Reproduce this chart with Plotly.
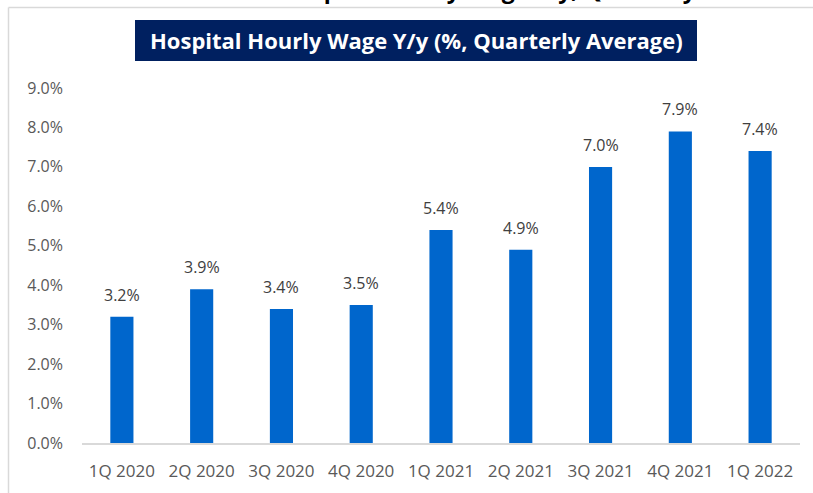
import plotly.graph_objects as go

categories = ["1Q 2020", "2Q 2020", "3Q 2020", "4Q 2020", "1Q 2021",
              "2Q 2021", "3Q 2021", "4Q 2021", "1Q 2022"]
wage_yoy = [3.2, 3.9, 3.4, 3.5, 5.4, 4.9, 7.0, 7.9, 7.4]
y_ticks = [0, 1, 2, 3, 4, 5, 6, 7, 8, 9]

title_text = "Hospital Hourly Wage Y/y (%, Quarterly Average)"
top_text = "Exhibit 3: Hospital Hourly Wage Y/y, Quarterly"

W, H = 813, 493
L, R, T, B = 82, 13, 88, 50
pw, ph = W - L - R, H - T - B

def px_x(x):
    return (x - L) / pw

def px_y(y):
    return (H - B - y) / ph

fig = go.Figure()
fig.add_trace(go.Bar(
    x=categories, y=wage_yoy,
    marker=dict(color="#0066CC", line=dict(width=0)),
    width=0.29,
    hoverinfo="x+y",
))

annotations = []
for c, v in zip(categories, wage_yoy):
    annotations.append(dict(
        x=c, y=v, xref="x", yref="y", text=f"{v:.1f}%",
        showarrow=False, yanchor="bottom", yshift=9,
        font=dict(family="Open Sans", size=16, color="#404040"),
    ))

# title inside navy box
annotations.append(dict(
    x=px_x(416), y=px_y(40.5), xref="paper", yref="paper",
    text=f"<b>{title_text}</b>", showarrow=False,
    xanchor="center", yanchor="middle",
    font=dict(family="Open Sans", size=22, color="white"),
))
# cut-off heading at very top
annotations.append(dict(
    x=px_x(433), y=px_y(-11), xref="paper", yref="paper",
    text=f"<b>{top_text}</b>", showarrow=False,
    xanchor="center", yanchor="middle",
    font=dict(family="Open Sans", size=23, color="black"),
))

shapes = [
    dict(type="rect", xref="paper", yref="paper",
         x0=px_x(135), x1=px_x(697), y0=px_y(61), y1=px_y(20),
         fillcolor="#002060", line=dict(width=0), layer="below"),
    dict(type="line", xref="paper", yref="paper",
         x0=px_x(8.5), x1=px_x(813), y0=px_y(7.5), y1=px_y(7.5),
         line=dict(color="#D9D9D9", width=1.5)),
    dict(type="line", xref="paper", yref="paper",
         x0=px_x(8.5), x1=px_x(8.5), y0=px_y(7.5), y1=px_y(493),
         line=dict(color="#D9D9D9", width=1.5)),
]

fig.update_layout(
    width=W, height=H,
    margin=dict(l=L, r=R, t=T, b=B, pad=0),
    paper_bgcolor="white", plot_bgcolor="white",
    showlegend=False,
    annotations=annotations,
    shapes=shapes,
    bargap=0.71,
)
fig.update_xaxes(
    type="category",
    showline=True, linecolor="#D9D9D9", linewidth=1.5,
    showgrid=False, ticks="",
    tickfont=dict(family="Open Sans", size=17, color="#595959"),
    ticklabelstandoff=12,
)
fig.update_yaxes(
    range=[0, 9], tickvals=y_ticks,
    ticktext=[f"{v:.1f}%" for v in y_ticks],
    showgrid=False, zeroline=False, showline=False, ticks="",
    tickfont=dict(family="Open Sans", size=16, color="#595959"),
    ticklabelstandoff=18,
)

fig.write_html("out.html", config={"displayModeBar": False})

# remove default browser body margin so the figure sits at the window origin
with open("out.html", "r", encoding="utf-8") as f:
    html = f.read()
html = html.replace("<body>", '<body style="margin:0;padding:0;overflow:hidden;">', 1)
with open("out.html", "w", encoding="utf-8") as f:
    f.write(html)
